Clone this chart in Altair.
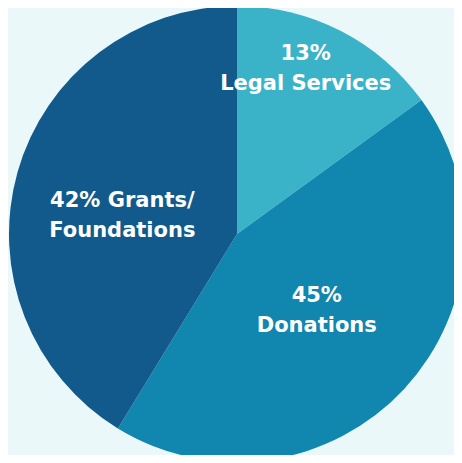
import altair as alt
import pandas as pd

categories = ["Legal Services", "Donations", "Grants/Foundations"]
sweep = [15.0, 43.75, 41.25]          # arc share as drawn
labels = ["13%\nLegal Services", "45%\nDonations", "42% Grants/\nFoundations"]
colors = ["#3AB3C8", "#1186AF", "#135A8C"]

df = pd.DataFrame({"cat": categories, "val": sweep, "label": labels,
                   "idx": list(range(len(categories)))})

cx, cy, R = 229, 226, 228

pie = alt.Chart(df).mark_arc(outerRadius=R, stroke=None).encode(
    theta=alt.Theta("val:Q", stack=True),
    order=alt.Order("idx:Q"),
    x=alt.value(cx), y=alt.value(cy),
    color=alt.Color("cat:N", scale=alt.Scale(domain=categories, range=colors), legend=None),
)

text_base = alt.Chart(df).transform_window(
    cum="sum(val)", sort=[alt.SortField("idx")]
).transform_calculate(mid="datum.cum - datum.val / 2")

def lab(name, r, dx, dy):
    return text_base.transform_filter(alt.datum.cat == name).mark_text(
        font="DejaVu Sans", fontSize=21, fontWeight="bold", color="white",
        lineBreak="\n", lineHeight=30, align="center", baseline="middle",
        radius=r, dx=dx, dy=dy,
    ).encode(
        theta=alt.Theta("mid:Q", scale=alt.Scale(domain=[0, 100], range=[0, 6.283185])),
        x=alt.value(cx), y=alt.value(cy), text="label:N",
    )

chart = alt.layer(
    pie,
    lab("Legal Services", 180, -13, -20),
    lab("Donations", 110, -1, -13),
    lab("Grants/Foundations", 116, -3, -2),
).resolve_scale(theta="independent").properties(
    width=446, height=447, background="#EAF8FA", padding=0,
    autosize=alt.AutoSizeParams(type="none"),
).configure_view(stroke=None)

chart.save("out.html", embed_options={"renderer": "svg", "actions": False})
